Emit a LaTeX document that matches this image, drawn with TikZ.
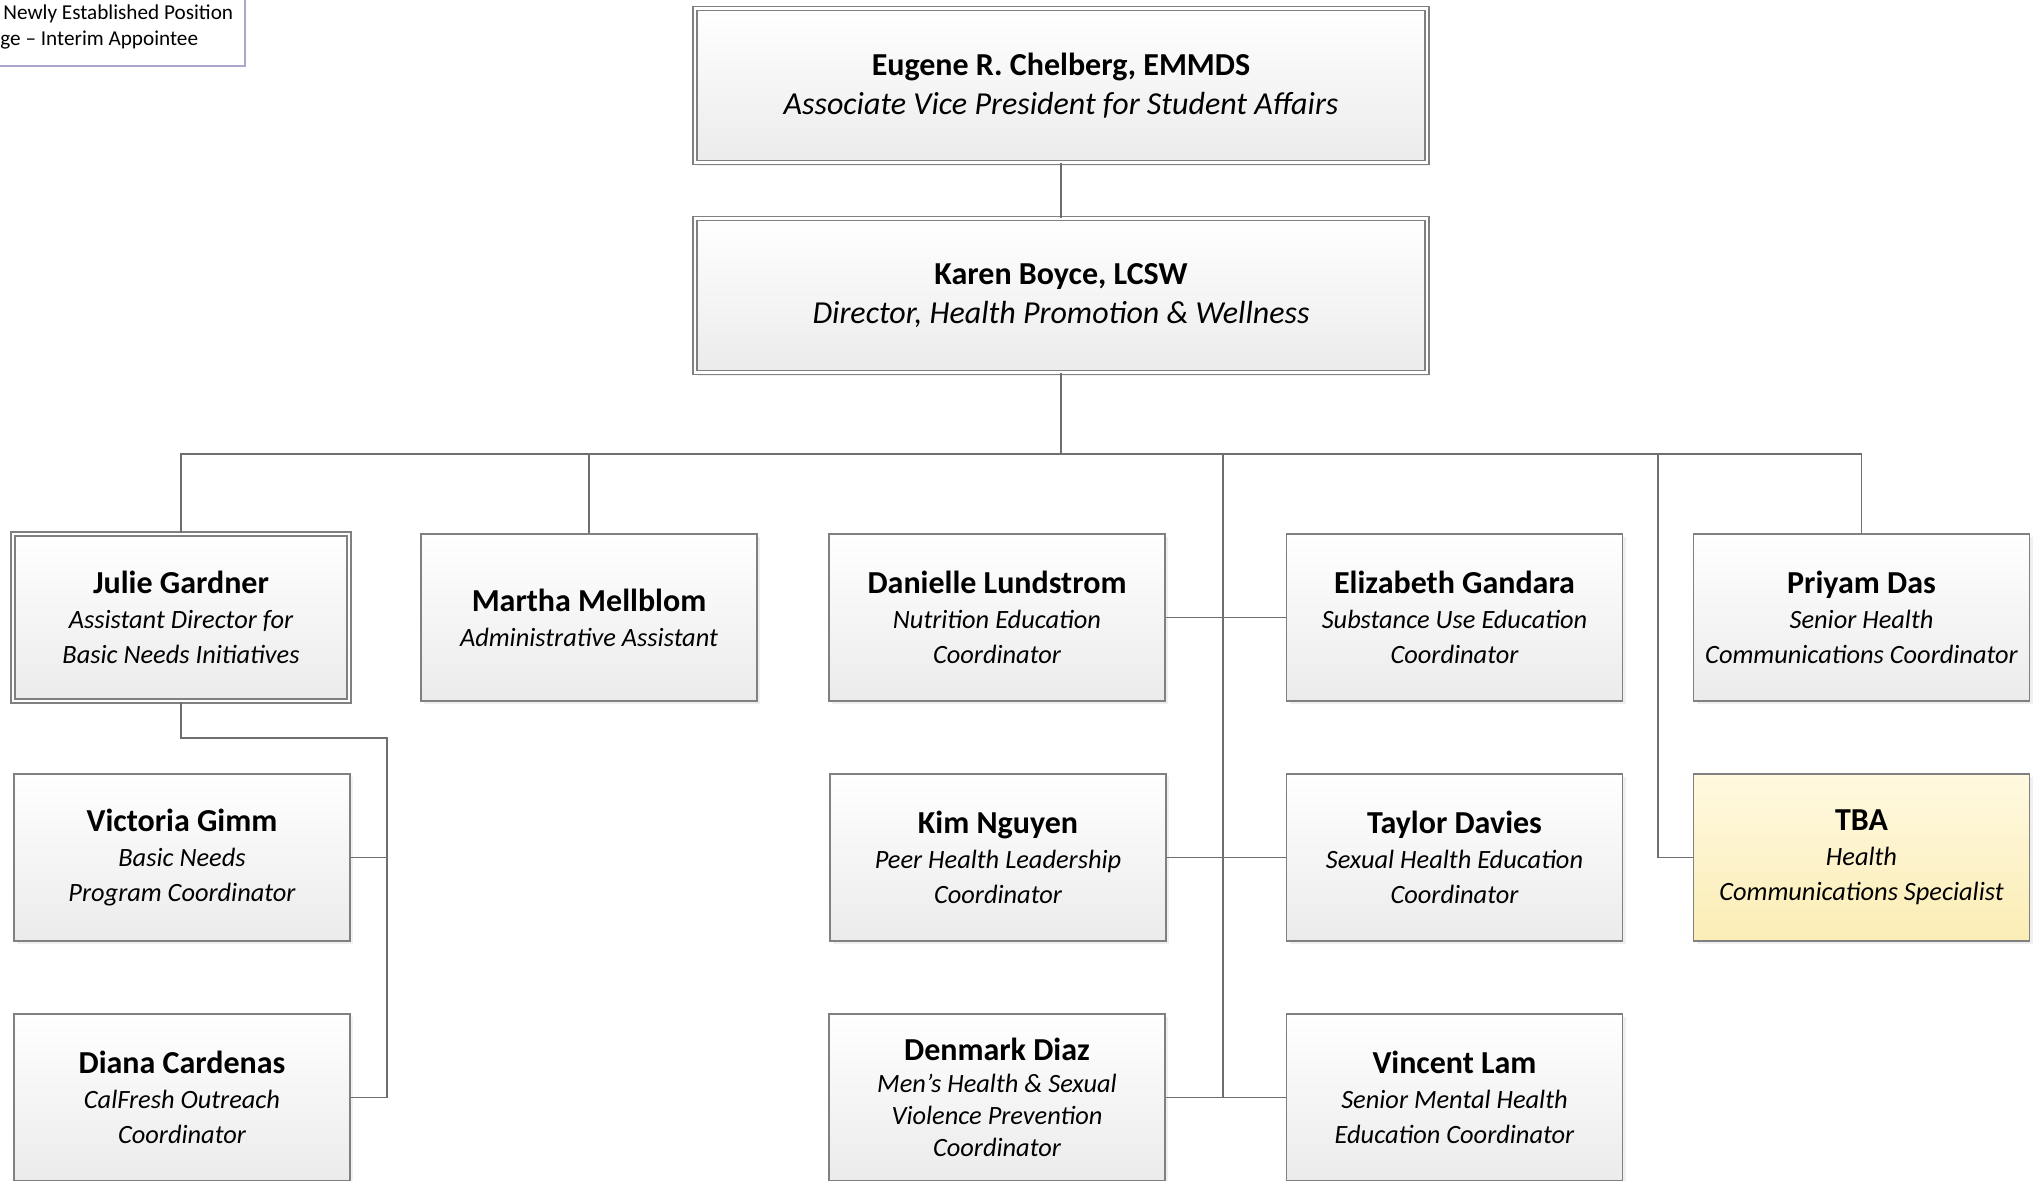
\documentclass[tikz,border=0pt]{standalone}
\usepackage{fontspec}
\setmainfont{Carlito}
\usetikzlibrary{shadows}
\definecolor{boxline}{HTML}{808080}
\definecolor{boxlow}{HTML}{EBEBEB}
\definecolor{tbatop}{HTML}{FFF9E0}
\definecolor{tbalow}{HTML}{FBEDB5}
\definecolor{linkcol}{HTML}{6E6E6E}
\definecolor{legline}{HTML}{ADA5CC}
\newcommand{\pname}[1]{{\fontsize{16}{17.5}\selectfont\upshape\bfseries #1}}
\begin{document}
\begin{tikzpicture}[x=0.5pt,y=-0.5pt,
	post/.style={draw=boxline,line width=0.6pt,top color=white,bottom color=boxlow,
		minimum width=168pt,minimum height=83.5pt,align=center,inner sep=2pt,
		font=\fontsize{13.2}{17.5}\selectfont\itshape,
		drop shadow={shadow xshift=1.5pt,shadow yshift=-1.5pt,opacity=0.12}},
	lead/.style={post,double=white,double distance=1.4pt},
	head/.style={lead,minimum width=366pt,minimum height=77pt,
		font=\fontsize{16}{19.5}\selectfont\itshape},
	open/.style={post,top color=tbatop,bottom color=tbalow},
	link/.style={draw=linkcol,line width=0.6pt}]
	\useasboundingbox (0,0) rectangle (2044,1180);
	\draw[legline,line width=0.6pt,fill=white] (-20,-20) rectangle (245,66);
	\node[anchor=west,inner sep=0pt,font=\fontsize{10.6}{12}\selectfont] (leg1) at (3,14) {Newly Established Position};
	\node[anchor=west,inner sep=0pt,font=\fontsize{10.6}{12}\selectfont] (leg2) at (0,40) {ge -- Interim Appointee};
	\node[head] (eugene) at (1061,85.5) {\pname{Eugene R. Chelberg, EMMDS}\\Associate Vice President for Student Affairs};
	\node[head] (karen) at (1061,295.5) {\pname{Karen Boyce, LCSW}\\Director, Health Promotion \& Wellness};
	\node[lead] (julie) at (181,617.5) {\pname{Julie Gardner}\\Assistant Director for\\Basic Needs Initiatives};
	\node[post] (martha) at (589,617.5) {\pname{Martha Mellblom}\\Administrative Assistant};
	\node[post] (danielle) at (997,617.5) {\pname{Danielle Lundstrom}\\Nutrition Education\\Coordinator};
	\node[post] (elizabeth) at (1454.5,617.5) {\pname{Elizabeth Gandara}\\Substance Use Education\\Coordinator};
	\node[post] (priyam) at (1861.5,617.5) {\pname{Priyam Das}\\Senior Health\\Communications Coordinator};
	\node[post] (victoria) at (182,857.5) {\pname{Victoria Gimm}\\Basic Needs\\Program Coordinator};
	\node[post] (kim) at (998,857.5) {\pname{Kim Nguyen}\\Peer Health Leadership\\Coordinator};
	\node[post] (taylor) at (1454.5,857.5) {\pname{Taylor Davies}\\Sexual Health Education\\Coordinator};
	\node[open] (tba) at (1861.5,857.5) {\pname{TBA}\\Health\\Communications Specialist};
	\node[post] (diana) at (182,1097.5) {\pname{Diana Cardenas}\\CalFresh Outreach\\Coordinator};
	\node[post,font=\fontsize{13.2}{16}\selectfont\itshape] (denmark) at (997,1097.5) {\pname{Denmark Diaz}\\Men’s Health \& Sexual\\Violence Prevention\\Coordinator};
	\node[post] (vincent) at (1454.5,1097.5) {\pname{Vincent Lam}\\Senior Mental Health\\Education Coordinator};
	\coordinate (bus) at (1061,454);
	\coordinate (busmid) at (1223,454);
	\coordinate (busright) at (1658,454);
	\coordinate (midend) at (1223,1098);
	\coordinate (jbend) at (387,738);
	\draw[link] (eugene) -- (karen);
	\draw[link] (karen) -- (bus);
	\draw[link] (julie.north) |- (bus);
	\draw[link] (priyam.north) |- (bus);
	\draw[link] (martha.north) -- (martha.north |- bus);
	\draw[link] (busmid) -- (midend);
	\draw[link] (danielle.east) -- (elizabeth.west);
	\draw[link] (kim.east) -- (taylor.west);
	\draw[link] (denmark.east) -- (vincent.west);
	\draw[link] (busright) |- (tba.west);
	\draw[link] (julie.south) |- (jbend) |- (diana.east);
	\draw[link] (victoria.east) -| (jbend);
\end{tikzpicture}
\end{document}
